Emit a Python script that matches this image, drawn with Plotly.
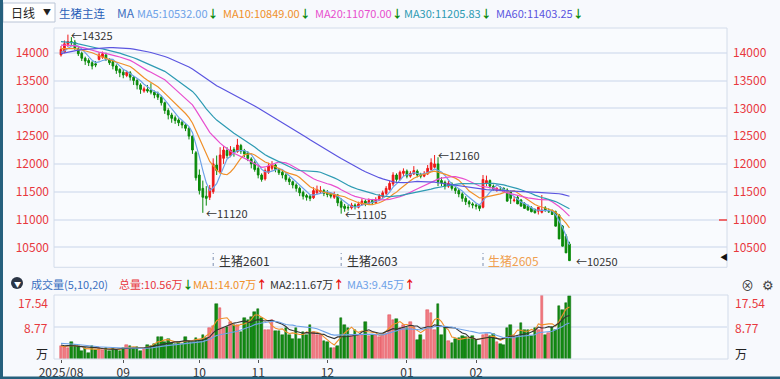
import plotly.graph_objects as go
import pandas as pd

# ---------------- data ----------------
opens = [13960,14010,14150,14200,14190,14070,13990,13900,13860,13820,
         13800,13880,13920,13960,13880,13840,13760,13700,13650,13590,
         13640,13560,13500,13420,13310,13340,13330,13290,13260,13200,
         13100,12960,12880,12830,12790,12750,12700,12640,12500,12200,
         11800,11560,11420,11400,11500,11980,11860,12100,12240,12150,
         12260,12220,12330,12240,12200,12090,12020,11920,11800,11730,
         11850,11920,11980,11900,11850,11800,11730,11680,11620,11560,
         11490,11430,11420,11390,11480,11500,11520,11480,11460,11400,
         11440,11320,11240,11220,11210,11260,11220,11270,11330,11290,
         11340,11300,11350,11410,11470,11540,11640,11800,11720,11830,
         11870,11780,11820,11870,11810,11780,11820,11900,11940,12000,
         11700,11670,11600,11640,11560,11520,11460,11380,11320,11280,
         11260,11250,11220,11650,11700,11600,11520,11540,11560,11530,
         11500,11340,11400,11350,11290,11240,11210,11180,11150,11130,
         11210,11140,11160,11140,11080,10880,10700,10560,10520]
highs = [14120,14220,14325,14280,14230,14100,14020,13930,13900,13850,
         13850,14010,14020,14000,13900,13870,13790,13720,13700,13680,
         13670,13580,13530,13450,13390,13420,13450,13320,13300,13230,
         13120,13000,12920,12870,12820,12780,12730,12660,12510,12230,
         11900,11700,11600,11620,12100,12150,12300,12320,12300,12320,
         12300,12450,12360,12270,12230,12120,12060,11960,11830,11920,
         12020,12050,12000,11930,11880,11830,11760,11700,11650,11590,
         11520,11460,11450,11580,11610,11600,11550,11530,11490,11500,
         11460,11380,11280,11260,11300,11290,11320,11380,11360,11380,
         11370,11400,11460,11520,11600,11700,11850,11830,11880,11920,
         11900,11870,11960,11900,11840,11870,11980,12100,12160,12120,
         11760,11700,11700,11670,11600,11550,11490,11420,11350,11310,
         11290,11280,11800,11790,11720,11630,11580,11600,11580,11560,
         11520,11420,11430,11370,11310,11270,11240,11200,11180,11440,
         11240,11200,11180,11160,11100,10900,10740,10600,10560]
lows = [13930,13990,14100,14120,14050,13940,13850,13780,13760,13700,
        13740,13860,13890,13850,13780,13700,13620,13560,13540,13560,
        13500,13420,13340,13260,13280,13280,13250,13180,13150,13050,
        12900,12800,12740,12720,12680,12640,12590,12440,12180,11700,
        11450,11120,11250,11350,11460,11800,11820,12000,12100,12120,
        12130,12200,12180,12120,12050,11920,11860,11740,11680,11700,
        11820,11880,11850,11800,11740,11680,11620,11560,11500,11420,
        11360,11340,11330,11370,11450,11460,11420,11400,11380,11370,
        11240,11105,11140,11160,11180,11180,11200,11250,11240,11270,
        11260,11280,11330,11390,11440,11520,11600,11680,11700,11780,
        11740,11750,11800,11760,11740,11760,11800,11880,11920,11600,
        11600,11540,11570,11520,11460,11400,11320,11260,11220,11200,
        11180,11150,11200,11600,11560,11520,11500,11520,11490,11460,
        11280,11310,11320,11240,11200,11160,11130,11110,11090,11110,
        11140,11120,11110,11040,10850,10620,10480,10360,10250]
closes = [14060,14160,14200,14180,14080,13980,13900,13850,13820,13760,
          13780,13960,13980,13880,13820,13760,13680,13640,13600,13650,
          13560,13500,13420,13340,13350,13310,13290,13240,13200,13100,
          12960,12880,12820,12780,12740,12700,12640,12500,12250,11750,
          11520,11400,11380,11560,12000,11880,12160,12250,12150,12250,
          12200,12340,12230,12180,12100,12000,11900,11800,11720,11880,
          11960,11990,11900,11840,11800,11720,11680,11620,11560,11480,
          11420,11400,11380,11520,11540,11520,11470,11450,11420,11450,
          11300,11220,11200,11210,11260,11230,11280,11330,11290,11340,
          11300,11360,11420,11480,11560,11650,11800,11720,11850,11870,
          11780,11830,11880,11800,11780,11830,11920,12020,12000,11680,
          11660,11600,11650,11560,11520,11460,11380,11320,11280,11260,
          11240,11200,11720,11700,11600,11540,11560,11520,11500,11330,
          11380,11350,11280,11240,11200,11170,11140,11120,11220,11170,
          11160,11140,11090,10880,10650,10520,10400,10260]
# closes before the visible window (feed the moving averages only)
pre_close = [13300,13350,13280,13400,13450,13380,13500,13550,13480,13600,
             13620,13580,13700,13750,13680,13800,13850,13820,
             13900,13950,14020,13980,14050,14100,14080,14150,14120,14200,
             14180,14250,
             14300,14350,14280,14400,14450,14380,14300,14250,14320,14200,
             14150,14220,14280,14250,14180,14200,14150,14230,14180,14160,
             14200,14180,14120,14100,14100,
             14050,13980,13950,14000]
volumes = [3.6,3.4,2.9,4.7,3.9,3.6,2.2,2.9,1.6,3.6,
           2.5,2.9,2.6,3.1,2.3,3.1,2.6,2.2,3.0,3.8,
           3.7,2.9,3.4,2.3,3.1,3.8,3.7,4.2,5.9,5.9,
           4.7,5.5,4.5,4.2,4.6,4.1,5.9,5.0,4.6,5.7,
           5.3,6.6,5.7,8.6,9.0,15.0,14.1,8.4,8.8,10.2,
           9.3,9.3,7.5,11.2,10.7,11.6,13.0,13.8,11.2,8.0,
           7.9,10.7,7.8,7.7,6.7,8.4,6.7,5.5,8.5,5.5,
           7.3,6.7,9.3,7.3,6.7,6.7,4.9,4.6,3.1,3.1,
           3.6,11.2,9.3,8.4,6.7,8.0,6.7,6.7,10.2,6.2,
           6.7,6.7,
           6.1,6.7,6.9,12.0,10.7,10.9,8.4,9.3,8.4,10.2,
           8.8,5.2,6.7,5.2,13.4,12.5,8.0,15.2,6.7,8.8,
           4.9,4.3,5.5,5.7,6.2,5.9,5.5,6.2,5.2,3.8,
           6.7,6.9,6.2,6.9,4.6,4.1,3.8,8.4,9.3,6.2,
           5.9,9.9,8.0,8.0,6.2,8.4,8.0,17.54,6.7,7.1,
           8.8,8.0,14.4,13.5,15.3,17.4,10.56]
pre_vol = [4.8,5.2,4.5,4.9,5.5,4.6,4.2,5.0,4.4,4.7,
           4.3,4.8,4.1,3.9,4.5,3.7,3.4,3.8,3.2]

price_ticks = [10500, 11000, 11500, 12000, 12500, 13000, 13500, 14000]
x_tick_pos = [0, 18, 40, 57, 77, 100, 120]
x_tick_text = ["2025/08", "09", "10", "11", "12", "01", "02"]
ma_periods = [5, 10, 20, 30, 60]
ma_colors = ["#6ea2e8", "#f0902a", "#e84fcf", "#2e9bb3", "#5b55e0"]
ma_header = ["MA5:10532.00", "MA10:10849.00", "MA20:11070.00", "MA30:11205.83", "MA60:11403.25"]
vol_ma_periods = [5, 10, 20]
vol_ma_colors = ["#f0902a", "#333333", "#6ea2e8"]
contracts = [(44, "生猪2601", "#333333"), (81, "生猪2603", "#333333"), (122, "生猪2605", "#f0a050")]
extremes = [(2, 14325, "high"), (41, 11120, "low"), (81, 11105, "low"), (108, 12160, "high"), (148, 10250, "low")]

# ---------------- geometry ----------------
W, H = 780, 379
L, R, T, B = 54, 727, 28, 359
MAIN_BOTTOM = 267.3
VOL_TOP = 295

def pxx(px):
    return (px - L) / (R - L)

def pxy(py):
    return (B - py) / (B - T)

n = len(closes)
idx = list(range(n))
FONT = "Noto Sans CJK SC, Noto Sans, sans-serif"
RED = "#e8383d"
GREEN = "#0a8a0a"
FS = 11

full_close = pd.Series(pre_close + closes, dtype=float)
full_vol = pd.Series(pre_vol + volumes, dtype=float)

fig = go.Figure()

fig.add_trace(go.Candlestick(
    x=idx, open=opens, high=highs, low=lows, close=closes,
    increasing=dict(line=dict(color="#f01818", width=1), fillcolor="#f01818"),
    decreasing=dict(line=dict(color="#0a8a0a", width=1), fillcolor="#0a8a0a"),
    whiskerwidth=0, xaxis="x", yaxis="y", showlegend=False, hoverinfo="skip"))

for p, c in zip(ma_periods, ma_colors):
    ma = full_close.rolling(p).mean().iloc[-n:].tolist()
    fig.add_trace(go.Scatter(x=idx, y=ma, mode="lines", line=dict(color=c, width=1.2),
                             xaxis="x", yaxis="y", showlegend=False, hoverinfo="skip"))

fig.add_trace(go.Scatter(x=[idx[0]], y=[closes[0]], mode="markers", marker=dict(opacity=0),
                         xaxis="x", yaxis="y2", showlegend=False, hoverinfo="skip"))

up = [c >= o for o, c in zip(opens, closes)]
fig.add_trace(go.Bar(
    x=idx, y=volumes, width=0.74,
    marker=dict(color=["#f07c84" if u else "#128a12" for u in up],
                line=dict(color=["#e0444e" if u else "#0a6e0a" for u in up], width=0.5)),
    xaxis="x2", yaxis="y3", showlegend=False, hoverinfo="skip"))

for p, c in zip(vol_ma_periods, vol_ma_colors):
    vm = full_vol.rolling(p).mean().iloc[-n:].tolist()
    fig.add_trace(go.Scatter(x=idx, y=vm, mode="lines", line=dict(color=c, width=1.1),
                             xaxis="x2", yaxis="y3", showlegend=False, hoverinfo="skip"))

# y ranges from pixel calibration: 14000 -> y 52.7, 10500 -> y 247.3
ppu = (247.3 - 52.7) / 3500.0
ytop = 14000 + (52.7 - T) / ppu
ybot = 14000 - (MAIN_BOTTOM - 52.7) / ppu
x0 = -7 / 3.459
x1 = x0 + (R - L) / 3.459

tickfont = dict(family=FONT, size=12, color=RED)
fig.update_layout(
    width=W, height=H,
    margin=dict(l=L, r=W - R, t=T, b=H - B, autoexpand=False),
    paper_bgcolor="#f7f9fd", plot_bgcolor="#f9fbfe",
    bargap=0, showlegend=False, hovermode=False,
    xaxis=dict(domain=[0, 1], anchor="y", range=[x0, x1], showticklabels=False, automargin=False,
               showgrid=False, zeroline=False, rangeslider=dict(visible=False), fixedrange=True),
    yaxis=dict(domain=[pxy(MAIN_BOTTOM), 1], range=[ybot, ytop], tickvals=price_ticks,
               tickformat="d", automargin=False,
               side="left", showgrid=True, gridcolor="#e1e8f4", gridwidth=2, zeroline=False,
               tickfont=tickfont, ticks="", ticklabelstandoff=4),
    yaxis2=dict(domain=[pxy(MAIN_BOTTOM), 1], range=[ybot, ytop], tickvals=price_ticks,
                tickformat="d", automargin=False,
                overlaying="y", side="right", showgrid=False, zeroline=False,
                tickfont=tickfont, ticks="", ticklabelstandoff=5, anchor="x"),
    xaxis2=dict(domain=[0, 1], anchor="y3", range=[x0, x1], tickvals=x_tick_pos,
                ticktext=x_tick_text, ticks="outside", ticklen=3, tickcolor="#555",
                tickfont=dict(family=FONT, size=12, color="#333"), showgrid=False,
                zeroline=False, matches="x", automargin=False),
    yaxis3=dict(domain=[0, pxy(VOL_TOP)], range=[0, 17.54], tickvals=[8.77],
                showticklabels=False, showgrid=True, gridcolor="#e1e8f4", gridwidth=2,
                zeroline=False, anchor="x2", automargin=False),
)

shapes = []
def rect_px(x0p, y0p, x1p, y1p, line=None, fill=None, lw=1):
    shapes.append(dict(type="rect", xref="paper", yref="paper",
                       x0=pxx(x0p), x1=pxx(x1p), y0=pxy(y1p), y1=pxy(y0p),
                       line=dict(color=line or "rgba(0,0,0,0)", width=lw if line else 0),
                       fillcolor=fill or "rgba(0,0,0,0)", layer="above"))

rect_px(L, T, R, MAIN_BOTTOM, line="#d3dcea")
rect_px(L, VOL_TOP, R + 1, B, line="#d3dcea")
rect_px(3, 3, 55, 22, line="#b9c4d6", fill="#ffffff")
rect_px(0, 0, 3, H, fill="#26607d")
rect_px(0, 376.5, W, H, fill="#26607d")
shapes.append(dict(type="line", xref="paper", yref="paper", x0=pxx(719), x1=pxx(727),
                   y0=pxy(220), y1=pxy(220), line=dict(color="#f04040", width=1.5)))
shapes.append(dict(type="circle", xref="paper", yref="paper", x0=pxx(11), x1=pxx(23),
                   y0=pxy(289), y1=pxy(277), fillcolor="#2b3545", line=dict(width=0)))
for i, lab, col in contracts:
    shapes.append(dict(type="line", xref="x", yref="paper", x0=i, x1=i,
                       y0=pxy(266), y1=pxy(253), line=dict(color="#7d8fb0", width=1, dash="dot")))
fig.update_layout(shapes=shapes)

ann = []
def text_px(x, y, s, color="#333", size=FS, anchor="left"):
    ann.append(dict(xref="paper", yref="paper", x=pxx(x), y=pxy(y), text=s,
                    showarrow=False, xanchor=anchor, yanchor="middle",
                    font=dict(family=FONT, size=size, color=color)))

DOWN = "<b><span style='color:#0a8a0a'>↓</span></b>"
UPA = "<b><span style='color:#e81010'>↑</span></b>"

# header row
text_px(9, 12.5, "日线", "#222", 12)
text_px(47, 12, "▼", "#222", 8, "center")
text_px(57, 12.5, "生猪主连", "#2a5fb8", 11.5)
text_px(115, 12.5, "MA", "#3d6fc0", 12)
for xs, s, c in zip([135, 221, 313, 402, 494], ma_header, ma_colors):
    text_px(xs, 12.5, s + DOWN, c, FS)

# volume header
text_px(17, 283.5, "▼", "#ffffff", 7, "center")
text_px(29, 283.5, "成交量(5,10,20)", "#3a6fc0", FS)
text_px(117, 283.5, "总量:10.56万" + DOWN, RED, FS)
text_px(191, 283.5, "MA1:14.07万" + UPA, "#f0902a", FS)
text_px(268, 283.5, "MA2:11.67万" + UPA, "#333333", FS)
text_px(345, 283.5, "MA3:9.45万" + UPA, "#6ea2e8", FS)
text_px(748, 284, "⊗", "#444", 13, "center")
text_px(768, 284, "⚙", "#444", 13, "center")

# volume axis labels
for yv, s, c in [(302, "17.54", RED), (327.5, "8.77", RED), (353, "万", "#222")]:
    text_px(50, yv, s, c, 12, "right")
    text_px(733, yv, s, c, 12, "left")

text_px(724, 256, "◀", "#111", 8, "center")

for i, v, kind in extremes:
    ann.append(dict(xref="x", yref="y", x=i + 0.4, y=v, text="←" + str(v), showarrow=False,
                    xanchor="left", yanchor="middle", font=dict(family=FONT, size=11, color="#333")))

for i, lab, col in contracts:
    ann.append(dict(xref="x", yref="paper", x=i + 1.0, y=pxy(260), text=lab, showarrow=False,
                    xanchor="left", yanchor="middle", font=dict(family=FONT, size=12, color=col)))

fig.update_layout(annotations=ann)
fig.write_html("out.html", config={"displayModeBar": False},
               post_script="document.body.style.margin='0';document.body.style.padding='0';")
